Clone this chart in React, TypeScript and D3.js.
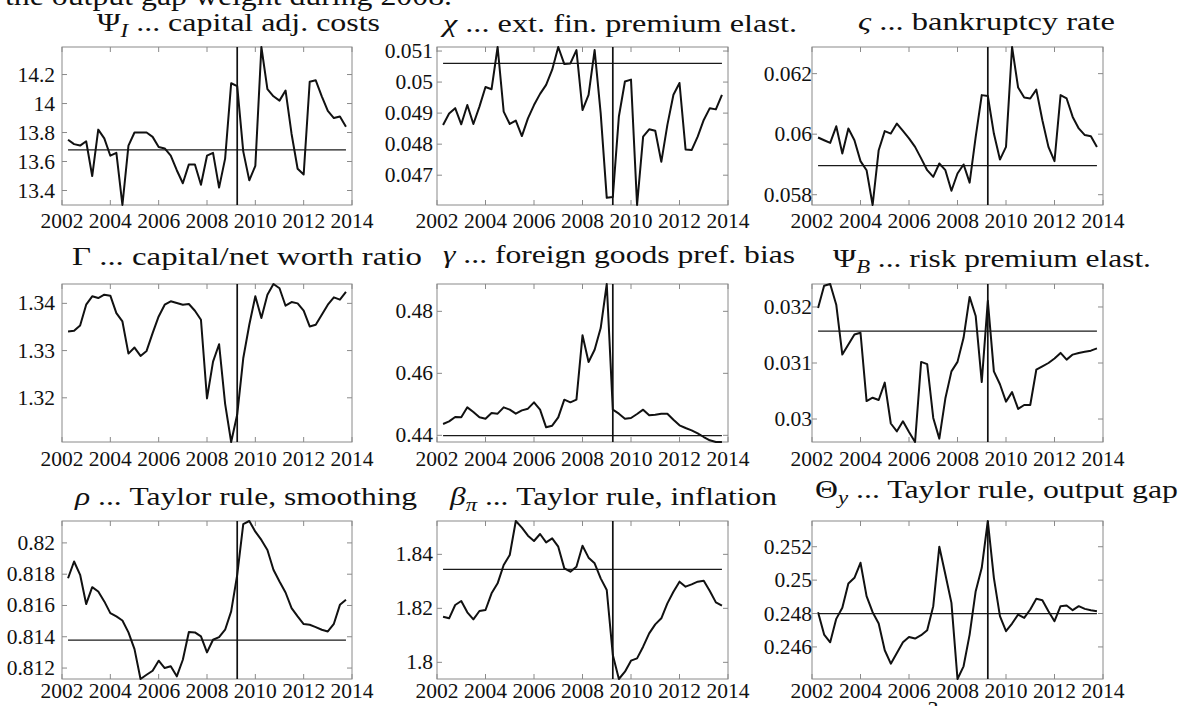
import * as d3 from 'd3';

// quarterly observations 2002Q2 .. 2013Q4
const quarters = d3.range(47).map((i) => 2002.25 + i * 0.25);
const xTicks = [2002, 2004, 2006, 2008, 2010, 2012, 2014];
const breakYear = 2009.25;

const psiI = [13.75, 13.72, 13.71, 13.74, 13.5, 13.82, 13.76, 13.64, 13.66, 13.3, 13.71, 13.8, 13.8, 13.8, 13.77, 13.7, 13.69, 13.64, 13.54, 13.45, 13.58, 13.58, 13.44, 13.64, 13.66, 13.42, 13.62, 14.14, 14.12, 13.67, 13.47, 13.57, 14.39, 14.1, 14.05, 14.02, 14.09, 13.79, 13.55, 13.51, 14.15, 14.16, 14.05, 13.95, 13.9, 13.91, 13.84];
const chi = [0.04862, 0.04899, 0.04916, 0.04864, 0.04926, 0.04865, 0.04921, 0.04984, 0.04977, 0.05113, 0.04905, 0.04865, 0.04876, 0.04826, 0.04883, 0.04926, 0.04962, 0.04991, 0.0504, 0.05113, 0.05058, 0.0506, 0.05103, 0.0491, 0.04959, 0.05103, 0.04899, 0.04627, 0.0463, 0.04889, 0.05002, 0.05008, 0.04604, 0.04824, 0.04848, 0.04843, 0.04743, 0.04862, 0.04959, 0.04997, 0.04783, 0.04781, 0.04824, 0.04878, 0.04916, 0.04912, 0.04959];
const varsigma = [0.05989, 0.0598, 0.05971, 0.06026, 0.05936, 0.06019, 0.0598, 0.05911, 0.05881, 0.05766, 0.05947, 0.0601, 0.06002, 0.06035, 0.06011, 0.05986, 0.05958, 0.0592, 0.05881, 0.05859, 0.05903, 0.05881, 0.05813, 0.0587, 0.059, 0.0584, 0.05991, 0.06129, 0.06126, 0.06002, 0.05916, 0.05958, 0.06288, 0.06154, 0.06121, 0.06118, 0.06147, 0.06046, 0.05958, 0.05911, 0.06129, 0.06118, 0.06057, 0.06019, 0.05997, 0.05993, 0.05958];
const bigGamma = [1.33404, 1.33418, 1.33532, 1.33972, 1.34149, 1.34113, 1.34184, 1.34163, 1.33794, 1.33617, 1.32936, 1.33064, 1.32887, 1.32993, 1.33369, 1.33723, 1.33972, 1.34043, 1.34007, 1.33972, 1.33986, 1.33844, 1.33652, 1.31986, 1.32766, 1.33135, 1.31872, 1.31064, 1.31645, 1.32837, 1.33546, 1.34149, 1.33688, 1.34184, 1.3441, 1.3432, 1.3395, 1.34028, 1.34, 1.33844, 1.33511, 1.33546, 1.33759, 1.33972, 1.34128, 1.34078, 1.34241];
const smallGamma = [0.44366, 0.44452, 0.44591, 0.44581, 0.44903, 0.44753, 0.44581, 0.44538, 0.4472, 0.44699, 0.44903, 0.44828, 0.44699, 0.44806, 0.4486, 0.45065, 0.44828, 0.44258, 0.44312, 0.44581, 0.4515, 0.45065, 0.4515, 0.47226, 0.46366, 0.46763, 0.47462, 0.48882, 0.44828, 0.44699, 0.44538, 0.44559, 0.44688, 0.44828, 0.44645, 0.44667, 0.44699, 0.44699, 0.44505, 0.44323, 0.44237, 0.44161, 0.44065, 0.43946, 0.43839, 0.43785, 0.43785];
const psiB = [0.03198, 0.03238, 0.03241, 0.03204, 0.03115, 0.03133, 0.03151, 0.03154, 0.03032, 0.03038, 0.03034, 0.03065, 0.02992, 0.02978, 0.02996, 0.02977, 0.02959, 0.03102, 0.03098, 0.03002, 0.02965, 0.03037, 0.03085, 0.03102, 0.03145, 0.03218, 0.03184, 0.03066, 0.03211, 0.03085, 0.03062, 0.03031, 0.03048, 0.03018, 0.03025, 0.03025, 0.03088, 0.03094, 0.031, 0.03108, 0.03118, 0.03106, 0.03115, 0.03118, 0.0312, 0.03122, 0.03126];
const rho = [0.81774, 0.81881, 0.81796, 0.81609, 0.81717, 0.81689, 0.81626, 0.81551, 0.8153, 0.81504, 0.81428, 0.81321, 0.8113, 0.81157, 0.81183, 0.81247, 0.812, 0.81211, 0.81147, 0.81253, 0.8143, 0.81428, 0.81402, 0.813, 0.81381, 0.81398, 0.81445, 0.81562, 0.81796, 0.8212, 0.8214, 0.82072, 0.82019, 0.81955, 0.81828, 0.81753, 0.81683, 0.81583, 0.8153, 0.81481, 0.81477, 0.81462, 0.81445, 0.81434, 0.81483, 0.81604, 0.81636];
const betaPi = [1.81691, 1.8163, 1.82123, 1.82272, 1.81852, 1.81593, 1.81901, 1.81938, 1.82556, 1.82926, 1.83605, 1.83975, 1.85235, 1.84988, 1.84691, 1.84494, 1.84753, 1.84444, 1.84593, 1.84284, 1.83481, 1.83358, 1.83543, 1.84321, 1.83877, 1.83667, 1.83111, 1.82679, 1.80272, 1.79383, 1.79654, 1.80062, 1.80148, 1.8058, 1.81074, 1.81407, 1.8163, 1.82185, 1.82617, 1.82988, 1.82802, 1.82889, 1.82988, 1.83025, 1.82642, 1.82222, 1.82099];
const thetaY = [0.24808, 0.24674, 0.24628, 0.24768, 0.24834, 0.2498, 0.25014, 0.25104, 0.24904, 0.24808, 0.2474, 0.2458, 0.245, 0.24564, 0.24628, 0.2466, 0.2465, 0.2467, 0.247, 0.24844, 0.252, 0.25034, 0.24864, 0.24408, 0.24484, 0.24674, 0.24934, 0.25074, 0.25354, 0.25014, 0.24784, 0.24694, 0.2474, 0.24794, 0.24774, 0.24824, 0.24888, 0.2488, 0.24814, 0.24754, 0.24844, 0.24848, 0.2482, 0.24844, 0.24828, 0.2482, 0.24814];

// y tick values per panel
const psiITicks = [13.4, 13.6, 13.8, 14, 14.2];
const chiTicks = [0.047, 0.048, 0.049, 0.05, 0.051];
const varsigmaTicks = [0.058, 0.06, 0.062];
const bigGammaTicks = [1.32, 1.33, 1.34];
const smallGammaTicks = [0.44, 0.46, 0.48];
const psiBTicks = [0.03, 0.031, 0.032];
const rhoTicks = [0.812, 0.814, 0.816, 0.818, 0.82];
const betaPiTicks = [1.8, 1.82, 1.84];
const thetaYTicks = [0.246, 0.248, 0.25, 0.252];

// horizontal reference level (null = none drawn)
const refLevels = [13.68, 0.0506, 0.05896, null, 0.4399, 0.03157, 0.81379, 1.83444, 0.248];

type Span = { t: string; sub?: boolean; it?: boolean };
const titles: Span[][] = [
  [{ t: 'Ψ' }, { t: 'I', sub: true, it: true }, { t: ' ... capital adj. costs' }],
  [{ t: 'χ', it: true }, { t: ' ... ext. fin. premium elast.' }],
  [{ t: 'ς', it: true }, { t: ' ... bankruptcy rate' }],
  [{ t: 'Γ' }, { t: ' ... capital/net worth ratio' }],
  [{ t: 'γ', it: true }, { t: ' ... foreign goods pref. bias' }],
  [{ t: 'Ψ' }, { t: 'B', sub: true, it: true }, { t: ' ... risk premium elast.' }],
  [{ t: 'ρ', it: true }, { t: ' ... Taylor rule, smoothing' }],
  [{ t: 'β', it: true }, { t: 'π', sub: true, it: true }, { t: ' ... Taylor rule, inflation' }],
  [{ t: 'Θ' }, { t: 'y', sub: true, it: true }, { t: ' ... Taylor rule, output gap' }],
];

const series = [psiI, chi, varsigma, bigGamma, smallGamma, psiB, rho, betaPi, thetaY];
const tickSets = [psiITicks, chiTicks, varsigmaTicks, bigGammaTicks, smallGammaTicks, psiBTicks, rhoTicks, betaPiTicks, thetaYTicks];

// layout
const cols = [[62, 352], [437, 728], [812, 1103]];
const rows = [[47, 205], [284, 442], [521, 679]];
const yLabelGap = [7, 4, 0];
const xLabelDrop = [16, 17, 12];
// title [left, right, baseline]
const titlePos = [
  [97, 380, 31], [443, 797, 32], [858, 1115, 30],
  [72, 422, 265], [443, 795, 263], [833, 1151, 267],
  [75, 417, 505], [450, 777, 505], [815, 1178, 498],
];

const FONT = 'Liberation Serif';
const boxColor = '#8a8a8a';
const tickLen = 5;

function Title({ spans, pos }: { spans: Span[]; pos: number[] }) {
  let shift = 0;
  const parts = spans.map((s, i) => {
    const target = s.sub ? 6 : 0;
    const dy = target - shift;
    shift = target;
    return (
      <tspan key={i} dy={dy} fontSize={s.sub ? 18 : 25} fontStyle={s.it ? 'italic' : 'normal'}>
        {s.t}
      </tspan>
    );
  });
  return (
    <text x={pos[0]} y={pos[2]} textLength={pos[1] - pos[0]} lengthAdjust="spacingAndGlyphs" fill="#111" fontFamily={FONT}>
      {parts}
    </text>
  );
}

function Panel({ idx }: { idx: number }) {
  const [x0, x1] = cols[idx % 3];
  const [y0, y1] = rows[Math.floor(idx / 3)];
  const values = series[idx];
  const ticks = tickSets[idx];
  const ref = refLevels[idx];
  const xScale = d3.scaleLinear().domain([2002, 2014]).range([x0, x1]);
  const [lo, hi] = d3.extent(values) as [number, number];
  const yScale = d3.scaleLinear().domain([lo, hi]).range([y1, y0]);
  const path = d3
    .line<number>()
    .x((_, i) => xScale(quarters[i]))
    .y((d) => yScale(d))(values);
  const labelGap = yLabelGap[idx % 3];
  const drop = xLabelDrop[Math.floor(idx / 3)];

  return (
    <g>
      <rect x={x0} y={y0} width={x1 - x0} height={y1 - y0} fill="white" stroke={boxColor} strokeWidth={1} />
      {/* x ticks, top and bottom, pointing inward */}
      {xTicks.map((t) => (
        <g key={t} stroke={boxColor} strokeWidth={1}>
          <line x1={xScale(t)} x2={xScale(t)} y1={y1} y2={y1 - tickLen} />
          <line x1={xScale(t)} x2={xScale(t)} y1={y0} y2={y0 + tickLen} />
        </g>
      ))}
      {ticks.map((t) => (
        <g key={t} stroke={boxColor} strokeWidth={1}>
          <line x1={x0} x2={x0 + tickLen} y1={yScale(t)} y2={yScale(t)} />
          <line x1={x1} x2={x1 - tickLen} y1={yScale(t)} y2={yScale(t)} />
        </g>
      ))}
      {ref !== null && (
        <line
          x1={xScale(quarters[0])}
          x2={xScale(quarters[quarters.length - 1])}
          y1={yScale(ref)}
          y2={yScale(ref)}
          stroke="#1a1a1a"
          strokeWidth={1.2}
        />
      )}
      <line x1={xScale(breakYear)} x2={xScale(breakYear)} y1={y0} y2={y1} stroke="#111" strokeWidth={1.7} />
      <path d={path ?? ''} fill="none" stroke="#111" strokeWidth={2} strokeLinejoin="round" />
      {xTicks.map((t) => (
        <text key={t} x={xScale(t)} y={y1 + drop} textAnchor="middle" dominantBaseline="central" fontSize={21.5} fill="#111" fontFamily={FONT}>
          {t}
        </text>
      ))}
      {ticks.map((t) => (
        <text key={t} x={x0 - labelGap} y={yScale(t)} textAnchor="end" dominantBaseline="central" fontSize={21.5} fill="#111" fontFamily={FONT}>
          {String(t)}
        </text>
      ))}
      <Title spans={titles[idx]} pos={titlePos[idx]} />
    </g>
  );
}

export default function App() {
  return (
    <svg width={1186} height={706} style={{ position: 'absolute', left: 0, top: 0, background: 'white' }}>
      <rect width={1186} height={706} fill="white" />
      <text x={5} y={5} fontSize={27} textLength={447} lengthAdjust="spacingAndGlyphs" fill="#111" fontFamily={FONT}>
        the output gap weight during 2008.
      </text>
      {series.map((_, i) => (
        <Panel key={i} idx={i} />
      ))}
      <text x={933} y={716} fontSize={22} textAnchor="middle" fill="#111" fontFamily={FONT}>
        3
      </text>
    </svg>
  );
}
